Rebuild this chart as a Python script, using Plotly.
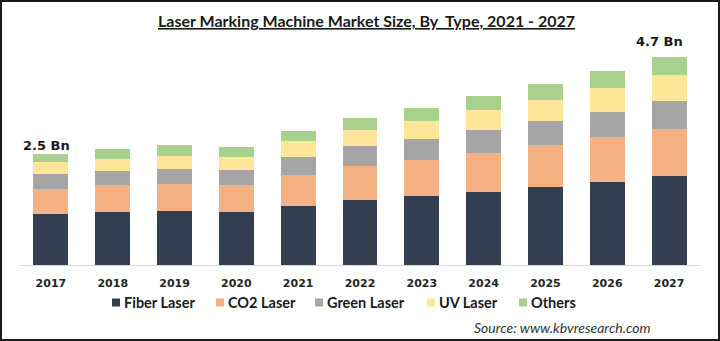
import plotly.graph_objects as go

# Market size by laser type (USD billion)
years = ["2017", "2018", "2019", "2020", "2021", "2022", "2023", "2024", "2025", "2026", "2027"]
fiber_laser = [1.15, 1.19, 1.21, 1.19, 1.33, 1.47, 1.55, 1.65, 1.77, 1.87, 2.00]
co2_laser = [0.57, 0.62, 0.62, 0.62, 0.71, 0.77, 0.83, 0.88, 0.93, 1.02, 1.08]
green_laser = [0.33, 0.32, 0.34, 0.34, 0.40, 0.44, 0.47, 0.51, 0.55, 0.57, 0.63]
uv_laser = [0.27, 0.26, 0.29, 0.29, 0.35, 0.36, 0.41, 0.45, 0.47, 0.53, 0.57]
others = [0.18, 0.23, 0.24, 0.23, 0.24, 0.28, 0.29, 0.32, 0.37, 0.38, 0.42]

series_names = ["Fiber Laser", "CO2 Laser", "Green Laser", "UV Laser", "Others"]
series_values = [fiber_laser, co2_laser, green_laser, uv_laser, others]
series_colors = ["#333F50", "#F4B183", "#A5A5A5", "#FFE699", "#A9D18E"]

# Years whose total gets a value label
labelled_years = ["2017", "2027"]

HUMANIST = "Lato, Liberation Sans, sans-serif"
BOLD_SANS = "DejaVu Sans, Verdana, sans-serif"

W, H = 720, 341
M_L, M_R, M_T, M_B = 20, 20, 40, 76
PW, PH = W - M_L - M_R, H - M_T - M_B


def px_to_paper(x, y):
    return (x - M_L) / PW, (H - M_B - y) / PH


fig = go.Figure()
for name, vals, color in zip(series_names, series_values, series_colors):
    fig.add_trace(go.Bar(
        x=years, y=vals, name=name,
        marker=dict(color=color, line=dict(width=0)),
        showlegend=False,
    ))

totals = [round(sum(v), 2) for v in zip(*series_values)]
label_shift = {"2017": (-4, 9), "2027": (-10, 15)}
for yr in labelled_years:
    i = years.index(yr)
    dx, dy = label_shift[yr]
    fig.add_annotation(
        x=i, y=totals[i], text=f"{totals[i]:.1f} Bn", showarrow=False,
        xanchor="center", yanchor="middle", xshift=dx, yshift=dy,
        font=dict(family=BOLD_SANS, size=13, color="#1a1a1a", weight="bold"),
    )

# Legend drawn as swatches + labels below the axis
legend_text_x = [124, 228, 327, 439, 531]
legend_y = 302.5
shapes = []
for name, color, tx in zip(series_names, series_colors, legend_text_x):
    x0, y0 = px_to_paper(tx - 12, legend_y + 4)
    x1, y1 = px_to_paper(tx - 4, legend_y - 4)
    shapes.append(dict(type="rect", xref="paper", yref="paper",
                       x0=x0, y0=y0, x1=x1, y1=y1,
                       fillcolor=color, line=dict(width=0)))
    ax, ay = px_to_paper(tx, legend_y)
    fig.add_annotation(
        xref="paper", yref="paper", x=ax, y=ay, text=name, showarrow=False,
        xanchor="left", yanchor="middle", xshift=-2,
        font=dict(family=HUMANIST, size=14.5, color="#1a1a1a", weight="bold"),
    )

# Outer frame
fx0, fy0 = px_to_paper(1, H - 1)
fx1, fy1 = px_to_paper(W - 1, 1)
shapes.append(dict(type="rect", xref="paper", yref="paper",
                   x0=fx0, y0=fy0, x1=fx1, y1=fy1,
                   line=dict(color="#1a1a1a", width=2), fillcolor="rgba(0,0,0,0)"))

# Title
tx, ty = px_to_paper(366, 20)
fig.add_annotation(
    xref="paper", yref="paper", x=tx, y=ty, showarrow=False,
    text="Laser Marking Machine Market Size, By\u00a0 Type, 2021 - 2027",
    xanchor="center", yanchor="middle",
    font=dict(family=HUMANIST, size=16, color="#1a1a1a", weight="bold",
              lineposition="under"),
)

# Source note
sx, sy = px_to_paper(652, 327)
fig.add_annotation(
    xref="paper", yref="paper", x=sx, y=sy, showarrow=False,
    text="Source: www.kbvresearch.com", xanchor="right", yanchor="middle",
    font=dict(family=HUMANIST, size=14, color="#333333", style="italic"),
)

fig.update_layout(
    width=W, height=H,
    margin=dict(l=M_L, r=M_R, t=M_T, b=M_B),
    barmode="stack", bargap=0.434,
    plot_bgcolor="white", paper_bgcolor="white",
    shapes=shapes,
    xaxis=dict(
        type="category", categoryorder="array", categoryarray=years,
        range=[-0.5, len(years) - 0.5],
        showgrid=False, zeroline=False,
        showline=True, linecolor="#D9D9D9", linewidth=1,
        ticks="outside", ticklen=8, tickcolor="rgba(0,0,0,0)",
        tickfont=dict(family=BOLD_SANS, size=11, color="#262626", weight="bold"),
    ),
    yaxis=dict(visible=False, range=[0, PH * 4.70 / 208.3]),
)

fig.write_html("out.html")
